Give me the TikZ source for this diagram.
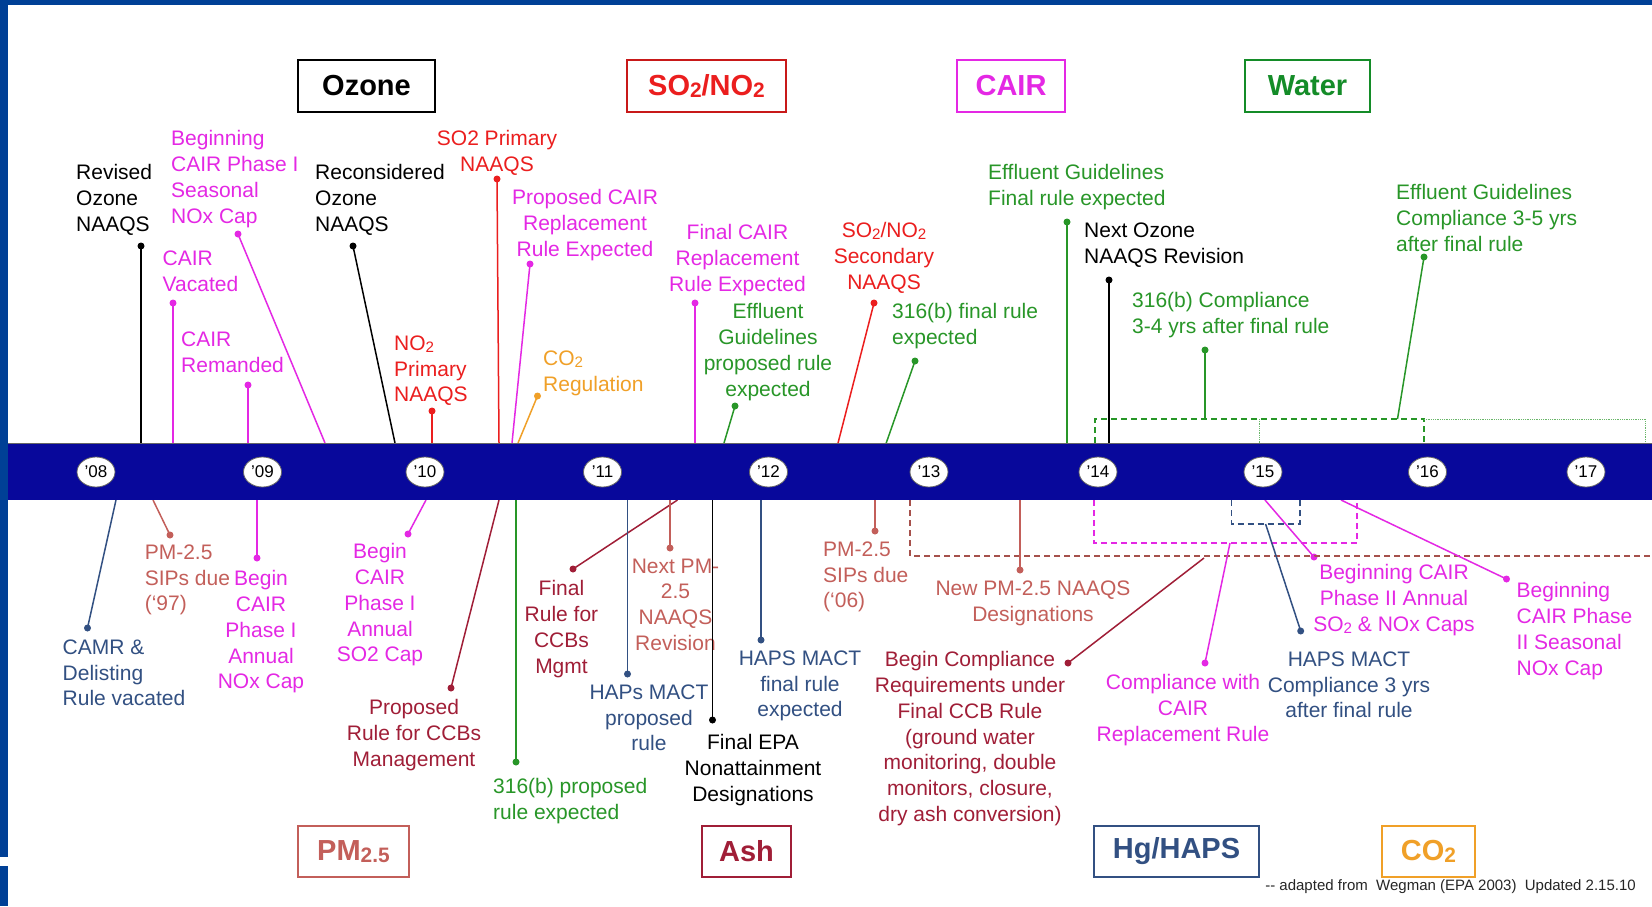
\documentclass[tikz,border=0pt]{standalone}
\usepackage{fontspec}
\setmainfont{Liberation Sans}
\usepackage{graphicx}
\usetikzlibrary{shapes.geometric}
\definecolor{framebl}{RGB}{0,64,150}
\definecolor{barbl}{RGB}{8,8,155}
\definecolor{mag}{RGB}{228,40,228}
\definecolor{redc}{RGB}{235,30,30}
\definecolor{orng}{RGB}{240,160,40}
\definecolor{grn}{RGB}{40,150,40}
\definecolor{slate}{RGB}{50,80,130}
\definecolor{rosy}{RGB}{195,95,90}
\definecolor{maroon}{RGB}{160,30,55}
\definecolor{wgreen}{RGB}{20,140,40}
\newcommand{\sbt}[1]{\raisebox{-0.08em}{\scalebox{0.72}{#1}}}
\begin{document}
\begin{tikzpicture}[x=1pt,y=-1pt,
  lbl/.style={inner sep=0pt, font=\fontsize{21}{25.7}\selectfont},
  lbll/.style={lbl, anchor=north west, align=left},
  lblc/.style={lbl, anchor=north, align=center},
  dotn/.style={circle, fill, inner sep=0pt, minimum size=7pt},
  conn/.style={line width=1.5pt},
  ttl/.style={draw, line width=1.6pt, inner sep=0pt, minimum height=52pt, fill=white,
    font=\bfseries\fontsize{29}{34}\selectfont},
  yr/.style={ellipse, draw=black!60, line width=0.8pt, fill=white, inner sep=0pt,
    minimum width=38pt, minimum height=30pt, font=\fontsize{17}{17}\selectfont},
  dsh/.style={line width=1.5pt, dash pattern=on 6pt off 4pt}
]
\useasboundingbox (0,0) rectangle (1652,906);
\fill[white] (0,0) rectangle (1652,906);
% frame
\fill[framebl] (0,0) rectangle (1652,5);
\fill[framebl] (0,0) rectangle (8,857);
\fill[framebl] (0,866) rectangle (8,906);

% title boxes
\node[ttl, draw=black, text=black, minimum width=137pt] (tOz) at (366.5,86) {Ozone};
\node[ttl, draw=redc!85!black, text=redc, minimum width=159pt] (tSO) at (706.5,86) {SO\sbt{2}/NO\sbt{2}};
\node[ttl, draw=mag, text=mag, minimum width=108pt] (tCA) at (1011,86) {CAIR};
\node[ttl, draw=wgreen, text=wgreen, minimum width=125pt] (tWa) at (1307.5,86) {Water};
\node[ttl, draw=rosy, text=rosy, minimum width=111pt, minimum height=51pt] (tPM) at (353.5,851.5) {PM\sbt{2.5}};
\node[ttl, draw=maroon, text=maroon, minimum width=89pt, minimum height=51pt] (tAs) at (746.5,851.5) {Ash};
\node[ttl, draw=slate, text=slate, minimum width=165pt, minimum height=51pt] (tHg) at (1176.5,851.5) {Hg/HAPS};
\node[ttl, draw=orng, text=orng, minimum width=93pt, minimum height=51pt] (tCO) at (1428.5,851.5) {CO\sbt{2}};

% ---------- above-bar labels ----------
\node[lbll, text=black] (T1) at (76,164.5) {Revised\\Ozone\\NAAQS};
\node[lbll, text=mag] (T2) at (171,130.5) {Beginning\\CAIR Phase I\\Seasonal\\NOx Cap};
\node[lbll, text=mag] (T3) at (162.5,250.5) {CAIR\\Vacated};
\node[lbll, text=mag] (T4) at (181,331.5) {CAIR\\Remanded};
\node[lbll, text=black] (T5) at (315,164.5) {Reconsidered\\Ozone\\NAAQS};
\node[lbll, text=redc] (T6) at (394,335.5) {NO\sbt{2}\\Primary\\NAAQS};
\node[lblc, text=redc] (T7) at (497,130.5) {SO2 Primary\\NAAQS};
\node[lblc, text=mag] (T8) at (585,189.5) {Proposed CAIR\\Replacement\\Rule Expected};
\node[lbll, text=orng] (T9) at (543,350.5) {CO\sbt{2}\\Regulation};
\node[lblc, text=mag] (T10) at (737.5,224.5) {Final CAIR\\Replacement\\Rule Expected};
\node[lblc, text=grn] (T11) at (768,303.5) {Effluent\\Guidelines\\proposed rule\\expected};
\node[lblc, text=redc] (T12) at (884,222.5) {SO\sbt{2}/NO\sbt{2}\\Secondary\\NAAQS};
\node[lbll, text=grn] (T13) at (892,303.5) {316(b) final rule\\expected};
\node[lbll, text=grn] (T14) at (988,164.5) {Effluent Guidelines\\Final rule expected};
\node[lbll, text=black] (T15) at (1084,222.5) {Next Ozone\\NAAQS Revision};
\node[lbll, text=grn] (T16) at (1132,292.5) {316(b) Compliance\\3-4 yrs after final rule};
\node[lbll, text=grn] (T17) at (1396,184.5) {Effluent Guidelines\\Compliance 3-5 yrs\\after final rule};

% ---------- below-bar labels ----------
\node[lbll, text=slate] (B1) at (62.5,639.5) {CAMR \&\\Delisting\\Rule vacated};
\node[lbll, text=rosy] (B2) at (144.6,544.5) {PM-2.5\\SIPs due\\(‘97)};
\node[lblc, text=mag] (B3) at (261,570.5) {Begin\\CAIR\\Phase I\\Annual\\NOx Cap};
\node[lblc, text=mag] (B4) at (380,543.5) {Begin\\CAIR\\Phase I\\Annual\\SO2 Cap};
\node[lblc, text=maroon] (B5) at (414,699.5) {Proposed\\Rule for CCBs\\Management};
\node[lbll, text=grn] (B6) at (493,778.5) {316(b) proposed\\rule expected};
\node[lblc, text=maroon] (B7) at (561.5,580.5) {Final\\Rule for\\CCBs\\Mgmt};
\node[lblc, text=slate] (B8) at (649,684.5) {HAPs MACT\\proposed\\rule};
\node[lblc, text=rosy] (B9) at (675.5,558.5) {Next PM-\\2.5\\NAAQS\\Revision};
\node[lblc, text=black] (B10) at (753,734.5) {Final EPA\\Nonattainment\\Designations};
\node[lblc, text=slate] (B11) at (800,650.5) {HAPS MACT\\final rule\\expected};
\node[lbll, text=rosy] (B12) at (823,541.5) {PM-2.5\\SIPs due\\(‘06)};
\node[lblc, text=rosy] (B13) at (1033,580.5) {New PM-2.5 NAAQS\\Designations};
\node[lblc, text=maroon] (B14) at (970,651.5) {Begin Compliance\\Requirements under\\Final CCB Rule\\(ground water\\monitoring, double\\monitors, closure,\\dry ash conversion)};
\node[lblc, text=mag] (B15) at (1183,674.5) {Compliance with\\CAIR\\Replacement Rule};
\node[lblc, text=slate] (B16) at (1349,651.5) {HAPS MACT\\Compliance 3 yrs\\after final rule};
\node[lblc, text=mag] (B17) at (1394,564.5) {Beginning CAIR\\Phase II Annual\\SO\sbt{2} \& NOx Caps};
\node[lbll, text=mag] (B18) at (1516.5,582.5) {Beginning\\CAIR Phase\\II Seasonal\\NOx Cap};

\node[inner sep=0pt, anchor=east, text=black!85, font=\fontsize{15}{15}\selectfont] (foot) at (1636,887)
  {-{}- adapted from\ \ Wegman (EPA 2003)\ \ Updated 2.15.10};

% ---------- dots ----------
\node[dotn, black] (d1) at (141,246) {};
\node[dotn, mag] (d2) at (238,234) {};
\node[dotn, mag] (d3) at (173,303) {};
\node[dotn, mag] (d4) at (248,385) {};
\node[dotn, black] (d5) at (353,246) {};
\node[dotn, redc] (d6) at (432,411) {};
\node[dotn, redc] (d7) at (497,179) {};
\node[dotn, mag] (d8) at (530,264) {};
\node[dotn, orng] (d9) at (537.5,396) {};
\node[dotn, mag] (d10) at (695,303) {};
\node[dotn, grn] (d11) at (735,406) {};
\node[dotn, redc] (d12) at (874,303) {};
\node[dotn, grn] (d13) at (915,361) {};
\node[dotn, grn] (d14) at (1067,222) {};
\node[dotn, black] (d15) at (1109,280) {};
\node[dotn, grn] (d16) at (1205,350) {};
\node[dotn, grn] (d17) at (1424,257) {};
\node[dotn, slate] (d18) at (87.5,628) {};
\node[dotn, rosy] (d19) at (170,535) {};
\node[dotn, mag] (d20) at (257,558) {};
\node[dotn, mag] (d21) at (408,534) {};
\node[dotn, maroon] (d22) at (451,688) {};
\node[dotn, grn] (d23) at (516,762) {};
\node[dotn, maroon] (d24) at (573,569) {};
\node[dotn, slate] (d25) at (627.5,674) {};
\node[dotn, rosy] (d26) at (670,548) {};
\node[dotn, black] (d27) at (712.5,720) {};
\node[dotn, slate] (d28) at (761,640) {};
\node[dotn, rosy] (d29) at (875,531) {};
\node[dotn, rosy] (d30) at (1020,570) {};
\node[dotn, maroon] (d31) at (1068,663) {};
\node[dotn, mag] (d32) at (1205,663) {};
\node[dotn, slate] (d33) at (1300.7,631) {};
\node[dotn, mag] (d34) at (1314,557) {};
\node[dotn, mag] (d35) at (1506.5,579) {};

% ---------- bar end coordinates ----------
\coordinate (e1) at (141,443);
\coordinate (e2) at (325,443);
\coordinate (e3) at (173,443);
\coordinate (e4) at (248,443);
\coordinate (e5) at (395,443);
\coordinate (e6) at (432,443);
\coordinate (e7) at (499,443);
\coordinate (e8) at (512,443);
\coordinate (e9) at (518,443);
\coordinate (e10) at (695,443);
\coordinate (e11) at (724,443);
\coordinate (e12) at (837,447);
\coordinate (e13) at (882,455);
\coordinate (e14) at (1067,443);
\coordinate (e15) at (1109,443);
\coordinate (e16) at (1205,419);
\coordinate (e17) at (1397.5,419);
\coordinate (e18) at (116,500);
\coordinate (e19) at (153,500);
\coordinate (e20) at (257,500);
\coordinate (e21) at (426,500);
\coordinate (e22) at (499,500);
\coordinate (e23) at (516,500);
\coordinate (e24) at (677.5,500);
\coordinate (e25) at (627.5,500);
\coordinate (e26) at (670,500);
\coordinate (e27) at (712.5,500);
\coordinate (e28) at (761,500);
\coordinate (e29) at (875,500);
\coordinate (e30) at (1020,500);
\coordinate (e31) at (1204,558);
\coordinate (e32) at (1230,543);
\coordinate (e33) at (1265.6,524);
\coordinate (e34) at (1265,500);
\coordinate (e35) at (1341,500);

% ---------- brackets ----------
\coordinate (g1) at (1095,443); \coordinate (g2) at (1095,419);
\coordinate (g3) at (1424,419); \coordinate (g4) at (1424,443);
\coordinate (g5) at (1645,419); \coordinate (g6) at (1645,443);
\coordinate (g7) at (1259.5,419); \coordinate (g8) at (1259.5,443);
\draw[dsh, grn] (g1) -- (g2) -- (g3) -- (g4);
\draw[grn!70, line width=0.8pt, densely dotted] (g3) -- (g5) -- (g6);
\draw[grn!70, line width=0.8pt, densely dotted] (g7) -- (g8);

\coordinate (r1) at (910,500); \coordinate (r2) at (910,556); \coordinate (r3) at (1652,556);
\draw[dsh, rosy!85!black] (r1) -- (r2) -- (r3);
\coordinate (m1) at (1094,500); \coordinate (m2) at (1094,543);
\coordinate (m3) at (1357,543); \coordinate (m4) at (1357,500);
\draw[dsh, mag] (m1) -- (m2) -- (m3) -- (m4);
\coordinate (s1) at (1231.6,500); \coordinate (s2) at (1231.6,524);
\coordinate (s3) at (1300,524); \coordinate (s4) at (1300,500);
\draw[dsh, slate] (s1) -- (s2) -- (s3) -- (s4);

% ---------- connectors ----------
\foreach \i/\c in {1/black,2/mag,3/mag,4/mag,5/black,6/redc,7/redc,8/mag,9/orng,10/mag,
  11/grn,12/redc,13/grn,14/grn,15/black,16/grn,17/grn,18/slate,19/rosy,20/mag,21/mag,
  22/maroon,23/grn,24/maroon,25/slate,26/rosy,27/black,28/slate,29/rosy,30/rosy,
  31/maroon,32/mag,33/slate,34/mag,35/mag}
  \draw[conn, \c] (d\i.center) -- (e\i);

% ---------- bar ----------
\fill[barbl] (8,443) rectangle (1652,500);
\draw[black!60, line width=0.8pt] (8,443) -- (1652,443);

\node[yr] (y08) at (96,472) {’08};
\node[yr] (y09) at (262.5,472) {’09};
\node[yr] (y10) at (425,472) {’10};
\node[yr] (y11) at (602.5,472) {’11};
\node[yr] (y12) at (768.5,472) {’12};
\node[yr] (y13) at (929,472) {’13};
\node[yr] (y14) at (1098,472) {’14};
\node[yr] (y15) at (1263,472) {’15};
\node[yr] (y16) at (1427.5,472) {’16};
\node[yr] (y17) at (1586,472) {’17};
\end{tikzpicture}
\end{document}
